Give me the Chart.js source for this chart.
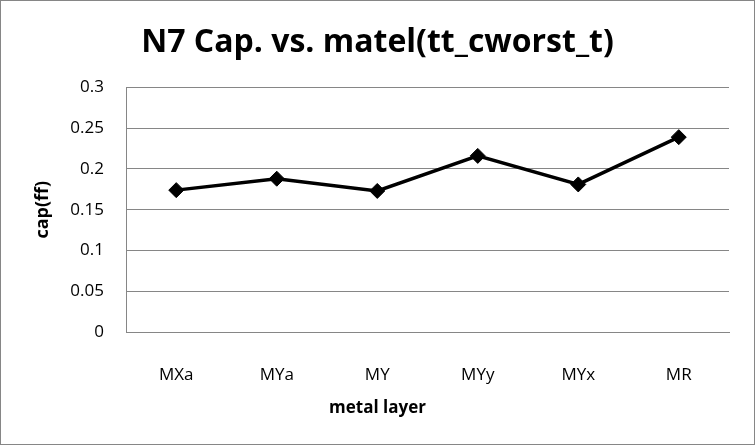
<html lang="en">
<head>
    <meta charset="UTF-8">
    <title>N7 Cap. vs. matel</title>
    <script src="https://cdn.jsdelivr.net/npm/chart.js"></script>
    <style>
        body {
            margin: 0;
            background: #ffffff;
        }
        .wrap {
            width: 755px;
            height: 445px;
        }
    </style>
</head>
<body>
    <div class="wrap"><canvas id="capChart" width="755" height="445"></canvas></div>
    <script>
        const layers = ["MXa", "MYa", "MY", "MYy", "MYx", "MR"];
        const capValues = [0.174, 0.188, 0.173, 0.216, 0.181, 0.239];
        const yTickLabels = ["0", "0.05", "0.1", "0.15", "0.2", "0.25", "0.3"];

        const fontFamily = "'Open Sans', sans-serif";

        const frame = {
            id: "frame",
            beforeDraw(chart) {
                const ctx = chart.ctx;
                ctx.save();
                ctx.fillStyle = "#ffffff";
                ctx.fillRect(0, 0, chart.width, chart.height);
                ctx.strokeStyle = "#868686";
                ctx.lineWidth = 1;
                ctx.strokeRect(0.5, 0.5, chart.width - 1, chart.height - 1);
                ctx.restore();
            }
        };

        new Chart(document.getElementById("capChart"), {
            type: "line",
            data: {
                labels: layers,
                datasets: [{
                    data: capValues,
                    borderColor: "#000000",
                    backgroundColor: "#000000",
                    borderWidth: 3.5,
                    tension: 0,
                    pointStyle: "rectRot",
                    pointRadius: 7.5,
                    pointBackgroundColor: "#000000",
                    pointBorderColor: "#000000",
                    pointBorderWidth: 1
                }]
            },
            options: {
                responsive: false,
                animation: false,
                layout: {
                    padding: { left: 26, right: 26, top: 0, bottom: 0 }
                },
                plugins: {
                    legend: { display: false },
                    tooltip: { enabled: false },
                    title: {
                        display: true,
                        text: "N7 Cap. vs. matel(tt_cworst_t)",
                        color: "#000000",
                        font: { family: fontFamily, size: 32, weight: "bold" },
                        padding: { top: 24, bottom: 25 }
                    },
                    // x axis title, centred on the whole chart like the original
                    subtitle: {
                        display: true,
                        position: "bottom",
                        text: "metal layer",
                        color: "#000000",
                        font: { family: fontFamily, size: 17, weight: "bold" },
                        padding: { top: 10, bottom: 27 }
                    }
                },
                scales: {
                    x: {
                        offset: true,
                        afterFit(s) { s.height = 55.6; },
                        grid: { display: false, drawTicks: false, offset: true },
                        border: { color: "#868686", width: 1 },
                        ticks: {
                            color: "#000000",
                            padding: 33,
                            font: { family: fontFamily, size: 17 }
                        }
                    },
                    y: {
                        min: 0,
                        max: 0.3,
                        afterFit(s) { s.width = 100; },
                        afterBuildTicks(s) {
                            s.ticks = yTickLabels.map(t => ({ value: parseFloat(t) }));
                        },
                        grid: { color: "#868686", drawTicks: false },
                        border: { color: "#868686", width: 1 },
                        ticks: {
                            color: "#000000",
                            padding: 22,
                            font: { family: fontFamily, size: 17 },
                            callback: (v, i) => yTickLabels[i]
                        },
                        title: {
                            display: true,
                            text: "cap(ff)",
                            color: "#000000",
                            font: { family: fontFamily, size: 18, weight: "bold" },
                            padding: { top: 6, bottom: 0 }
                        }
                    }
                }
            },
            plugins: [frame]
        });
    </script>
</body>
</html>
